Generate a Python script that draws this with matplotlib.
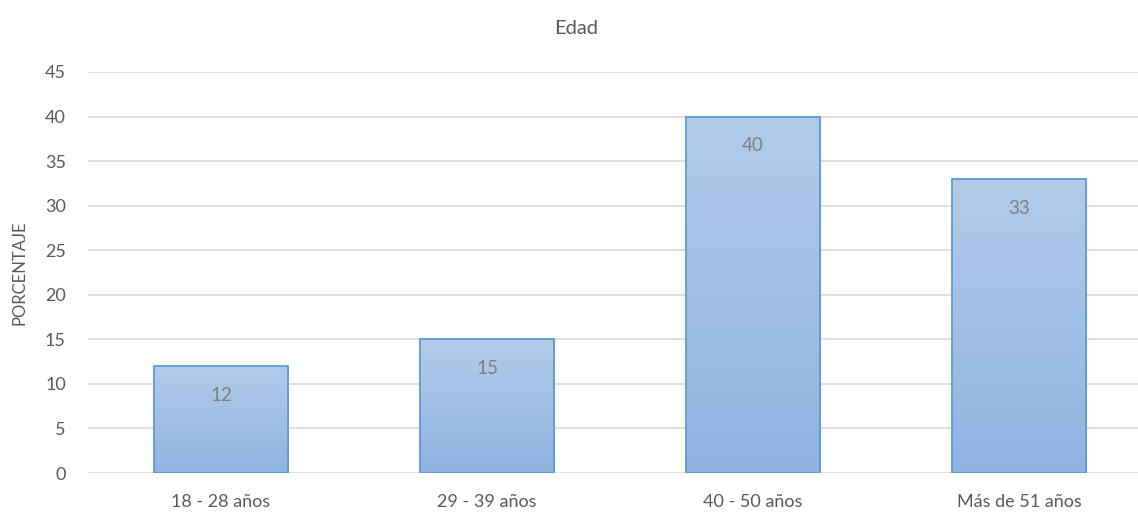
import matplotlib.pyplot as plt
import numpy as np
from matplotlib.colors import LinearSegmentedColormap

# edad de los encuestados
categorias = ['18 - 28 años', '29 - 39 años', '40 - 50 años', 'Más de 51 años']
porcentajes = [12, 15, 40, 33]
ticks_y = [0, 5, 10, 15, 20, 25, 30, 35, 40, 45]

plt.rcParams['font.family'] = ['Lato', 'DejaVu Sans']

fig = plt.figure(figsize=(11.38, 5.15), dpi=100)
fig.set_facecolor('white')
ax = fig.add_axes([88 / 1138, 42 / 515, 1 - 88 / 1138, 401 / 515])

x = np.arange(len(categorias))
bars = ax.bar(x, porcentajes, width=0.505, color='none', edgecolor='#5B9BD5',
              linewidth=1.3, zorder=3)

# degradado vertical dentro de cada barra
grad = np.linspace(0, 1, 256).reshape(-1, 1)
cmap = LinearSegmentedColormap.from_list('azul', ['#8FB4E2', '#B2CCEA'])
for b in bars:
    x0, w, h = b.get_x(), b.get_width(), b.get_height()
    im = ax.imshow(grad, extent=[x0, x0 + w, 0, h], origin='lower', cmap=cmap,
                   aspect='auto', zorder=2)
    im.set_clip_path(b)

for xi, v in zip(x, porcentajes):
    ax.annotate(str(v), (xi, v), xytext=(0, -21), textcoords='offset points',
                ha='center', va='center', fontsize=13.5, color='#7F7F7F', zorder=4)

ax.set_xlim(-0.5, 3.5 - 14 / 266)
ax.set_ylim(0, 45)
ax.set_yticks(ticks_y)
ax.set_xticks(x)
ax.set_xticklabels(categorias)
ax.yaxis.grid(True, color='#D9D9D9', linewidth=1.2, zorder=0)
ax.set_axisbelow(True)
for s in ax.spines.values():
    s.set_visible(False)
ax.tick_params(axis='both', length=0, labelsize=13, labelcolor='#595959')
ax.tick_params(axis='y', pad=16)
ax.tick_params(axis='x', pad=15)

ax.set_ylabel('PORCENTAJE', fontsize=12, color='#595959')
ax.yaxis.set_label_coords(-60 / 1050, 0.5)
fig.text(576 / 1138, 1 - 28 / 515, 'Edad', ha='center', va='center',
         fontsize=14.5, color='#595959')

plt.savefig('out.png', dpi=100)
